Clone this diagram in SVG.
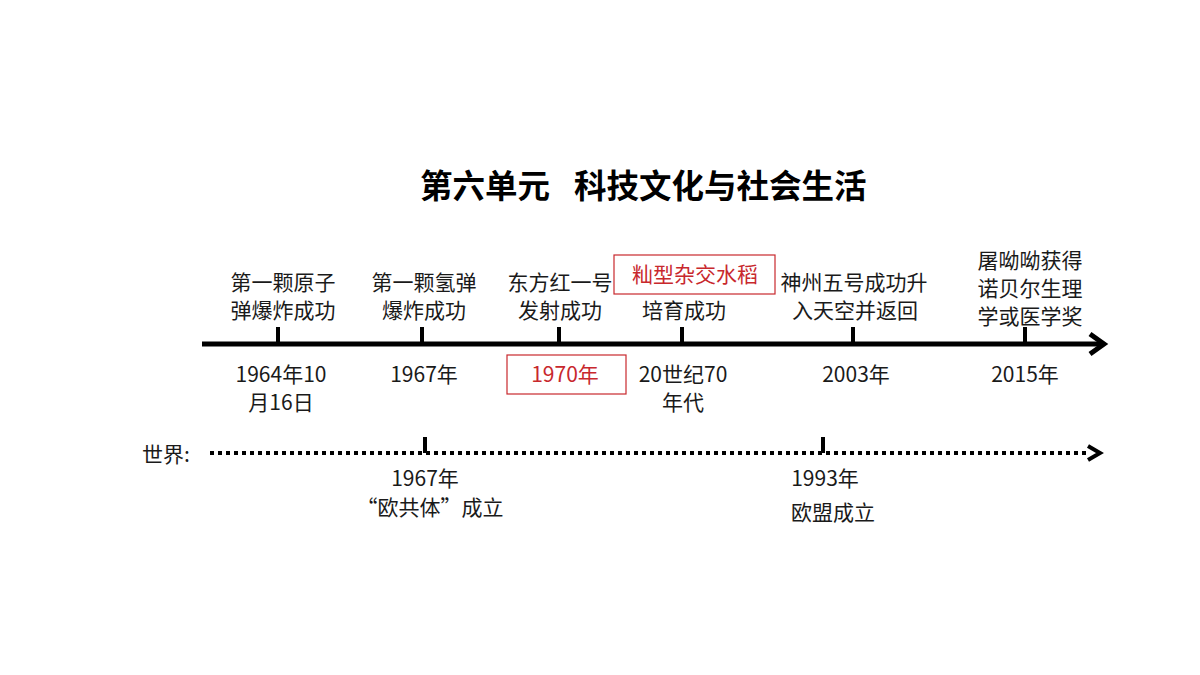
<svg xmlns="http://www.w3.org/2000/svg" width="1200" height="675" viewBox="0 0 1200 675">
<style>
text{font-family:"Noto Sans CJK SC","Noto Sans",sans-serif;font-size:21px;fill:#1a1a1a;text-anchor:middle}
.title{font-size:32.5px;font-weight:bold;fill:#000;text-anchor:start}
.red{fill:#c8282d}
.box{fill:none;stroke:#c8282d;stroke-width:1.2}
.tick{stroke:#000;stroke-width:4}
</style>
<rect width="1200" height="675" fill="#fff"/>
<g id="title">
<text class="title" x="420" y="198">第六单元</text>
<text class="title" x="574" y="198">科技文化与社会生活</text>
</g>
<g id="connectors">
<line x1="202" y1="344" x2="1100" y2="344" stroke="#000" stroke-width="5"/>
<polyline points="1090,334 1104,344 1090,354" fill="none" stroke="#000" stroke-width="5" stroke-linejoin="miter"/>
<line x1="210" y1="453" x2="1088" y2="453" stroke="#000" stroke-width="4" stroke-dasharray="4 4"/>
<polyline points="1088,446 1100,453 1088,460" fill="none" stroke="#000" stroke-width="4"/>
<line class="tick" x1="278" y1="327" x2="278" y2="344"/>
<line class="tick" x1="422" y1="327" x2="422" y2="344"/>
<line class="tick" x1="559" y1="327" x2="559" y2="344"/>
<line class="tick" x1="682" y1="327" x2="682" y2="344"/>
<line class="tick" x1="853" y1="327" x2="853" y2="344"/>
<line class="tick" x1="1025" y1="327" x2="1025" y2="344"/>
<line class="tick" x1="425" y1="437" x2="425" y2="453"/>
<line class="tick" x1="823" y1="437" x2="823" y2="453"/>
</g>
<g id="e1964">
<text x="283" y="290">第一颗原子</text>
<text x="283" y="318">弹爆炸成功</text>
<text x="281" y="382">1964年10</text>
<text x="281" y="410">月16日</text>
</g>
<g id="e1967">
<text x="424" y="290">第一颗氢弹</text>
<text x="424" y="318">爆炸成功</text>
<text x="424" y="382">1967年</text>
</g>
<g id="e1970">
<text x="560" y="290">东方红一号</text>
<text x="560" y="318">发射成功</text>
<rect class="box" x="507" y="355" width="119" height="39"/>
<text class="red" x="565" y="382">1970年</text>
</g>
<g id="e70s">
<rect class="box" x="614" y="255" width="161" height="39"/>
<text class="red" x="695" y="282">籼型杂交水稻</text>
<text x="684" y="318">培育成功</text>
<text x="683" y="382">20世纪70</text>
<text x="683" y="410">年代</text>
</g>
<g id="e2003">
<text x="854" y="290">神州五号成功升</text>
<text x="855" y="318">入天空并返回</text>
<text x="856" y="382">2003年</text>
</g>
<g id="e2015">
<text x="1030" y="268">屠呦呦获得</text>
<text x="1030" y="296">诺贝尔生理</text>
<text x="1030" y="324">学或医学奖</text>
<text x="1025" y="382">2015年</text>
</g>
<g id="world">
<text x="166" y="462">世界:</text>
</g>
<g id="w1967">
<text x="425" y="486">1967年</text>
<text x="430" y="515">“欧共体”成立</text>
</g>
<g id="w1993">
<text x="825" y="486">1993年</text>
<text x="833" y="520">欧盟成立</text>
</g>
</svg>
